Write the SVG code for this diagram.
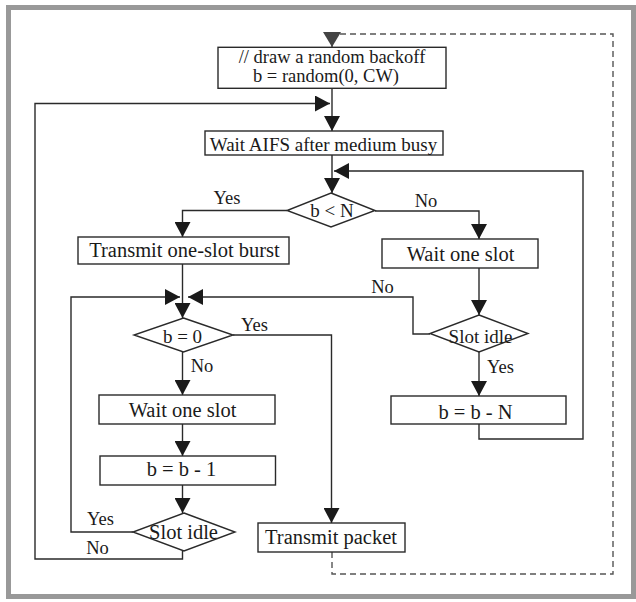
<svg xmlns="http://www.w3.org/2000/svg" width="636" height="602" viewBox="0 0 636 602">
<style>
.frame{fill:#fff;stroke:#999;stroke-width:5}
.box{fill:#fff;stroke:#2a2a2a;stroke-width:1.4}
.ln{fill:none;stroke:#2a2a2a;stroke-width:1.4}
.dash{fill:none;stroke:#555;stroke-width:1.4;stroke-dasharray:6,4}
text{font-family:"Liberation Serif","Times New Roman",serif;fill:#1a1a1a;text-anchor:middle}
.t{font-size:20.5px}
.t19{font-size:19px}
.t18{font-size:18.5px}
.d{font-size:19px}
.lb{font-size:18.5px}
</style>
<defs>
<marker id="ah" viewBox="0 0 15 16" refX="15" refY="8" markerWidth="15" markerHeight="16" markerUnits="userSpaceOnUse" orient="auto">
<path d="M0,0 L15,8 L0,16 z" fill="#1a1a1a"/>
</marker>
<marker id="ahg" viewBox="0 0 15 18" refX="15" refY="9" markerWidth="15" markerHeight="18" markerUnits="userSpaceOnUse" orient="auto">
<path d="M0,0 L15,9 L0,18 z" fill="#444"/>
</marker>
</defs>
<rect class="frame" x="8.5" y="7.5" width="625" height="589"/>

<g id="connectors">
<path class="dash" d="M332,552 V574 H613 V34 H336" />
<path d="M332,34 V47" fill="none" stroke="#444" stroke-width="1.4" marker-end="url(#ahg)"/>
<path class="ln" d="M332,88 V131" marker-end="url(#ah)"/>
<path class="ln" d="M182.5,551 V559 H35 V103.5 H330" marker-end="url(#ah)"/>
<path class="ln" d="M332,155 V193" marker-end="url(#ah)"/>
<path class="ln" d="M479,424 V439 H583 V171 H334" marker-end="url(#ah)"/>
<path class="ln" d="M287,210.5 H182.5 V237" marker-end="url(#ah)"/>
<path class="ln" d="M375,211 H479 V239" marker-end="url(#ah)"/>
<path class="ln" d="M182.5,264 V318" marker-end="url(#ah)"/>
<path class="ln" d="M133,532 H71 V297 H180" marker-end="url(#ah)"/>
<path class="ln" d="M430,334 H413 V297 H188" marker-end="url(#ah)"/>
<path class="ln" d="M479,268 V315" marker-end="url(#ah)"/>
<path class="ln" d="M479,351 V396" marker-end="url(#ah)"/>
<path class="ln" d="M233,335 H331.5 V523" marker-end="url(#ah)"/>
<path class="ln" d="M182.5,352 V395" marker-end="url(#ah)"/>
<path class="ln" d="M182.5,424 V456" marker-end="url(#ah)"/>
<path class="ln" d="M182.5,485 V513" marker-end="url(#ah)"/>
<text class="lb" x="227" y="204">Yes</text>
<text class="lb" x="426" y="207">No</text>
<text class="lb" x="382.5" y="293">No</text>
<text class="lb" x="254.5" y="331">Yes</text>
<text class="lb" x="202" y="372">No</text>
<text class="lb" x="500.5" y="373">Yes</text>
<text class="lb" x="100.5" y="525">Yes</text>
<text class="lb" x="97.5" y="554">No</text>
</g>

<g id="n-draw">
<rect class="box" x="218" y="47.3" width="228" height="41"/>
<text class="t18" x="332" y="63">// draw a random backoff</text>
<text class="t18" x="326" y="82">b = random(0, CW)</text>
</g>
<g id="n-aifs">
<rect class="box" x="205" y="131" width="238" height="24"/>
<text class="t19" x="323.5" y="150.5">Wait AIFS after medium busy</text>
</g>
<g id="n-bltN">
<polygon class="box" points="331,193 375,210.5 331,227 287,210.5"/>
<text class="d" x="332" y="216.5">b &lt; N</text>
</g>
<g id="n-burst">
<rect class="box" x="78" y="237" width="211" height="27"/>
<text class="t" x="184.5" y="257">Transmit one-slot burst</text>
</g>
<g id="n-wait-r">
<rect class="box" x="382" y="239" width="156" height="29"/>
<text class="t" x="460.5" y="260.5">Wait one slot</text>
</g>
<g id="n-idle-r">
<polygon class="box" points="479,315 528,333.5 479,352 430,333.5"/>
<text class="d" x="480.5" y="343">Slot idle</text>
</g>
<g id="n-bN">
<rect class="box" x="391" y="396" width="175" height="28"/>
<text class="t" x="475.5" y="419">b = b - N</text>
</g>
<g id="n-b0">
<polygon class="box" points="183.5,318 233,335 183.5,352 134,335"/>
<text class="d" x="182.5" y="342.5">b = 0</text>
</g>
<g id="n-wait-l">
<rect class="box" x="99" y="395" width="176" height="29"/>
<text class="t" x="182.5" y="417">Wait one slot</text>
</g>
<g id="n-b1">
<rect class="box" x="100" y="456" width="175.5" height="29"/>
<text class="t" x="181.5" y="476">b = b - 1</text>
</g>
<g id="n-idle-l">
<polygon class="box" points="184,513 235,532 184,551 133,532"/>
<text class="t" x="183.5" y="538.5">Slot idle</text>
</g>
<g id="n-tx">
<rect class="box" x="258" y="523" width="147" height="29"/>
<text class="t" x="331" y="543.5">Transmit packet</text>
</g>
</svg>
